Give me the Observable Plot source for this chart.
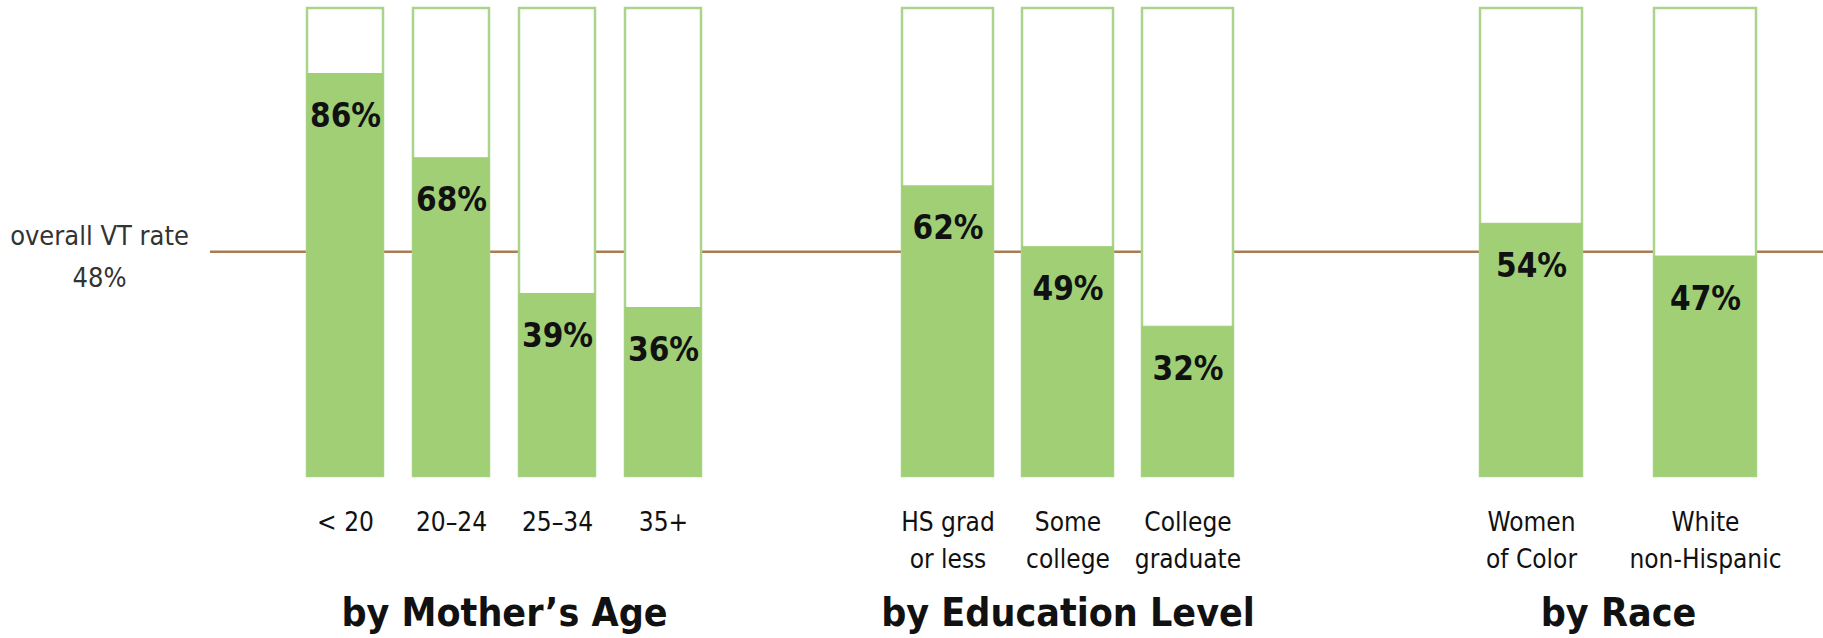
<!DOCTYPE html>
<html>
<head>
<meta charset="utf-8">
<script src="https://cdn.jsdelivr.net/npm/d3@7"></script>
<script src="https://cdn.jsdelivr.net/npm/@observablehq/plot@0.6"></script>
<style>
  html, body { margin: 0; padding: 0; background: #fff; }
  #chart { position: relative; width: 1823px; height: 638px; overflow: hidden; background: #fff; }
  #chart > svg { position: absolute; top: 0; }
</style>
</head>
<body>
<div id="chart"></div>
<script>
// ---- data ----
const groupTitles = ["by Mother\u2019s Age", "by Education Level", "by Race"];
const ageCats = ["< 20", "20\u201324", "25\u201334", "35+"];
const ageVals = [86, 68, 39, 36];
const eduCats = ["HS grad\nor less", "Some\ncollege", "College\ngraduate"];
const eduVals = [62, 49, 32];
const raceCats = ["Women\nof Color", "White\nnon-Hispanic"];
const raceVals = [54, 47];
const overallLabel = "overall VT rate";
const overallRate = 48;

// ---- styles ----
const GREEN = "#a0cf76";
const OUTLINE = "#a9d48a";
const BROWN = "#a97c52";
const H = 638, MT = 8, MB = 162;
const COND = "'DejaVu Sans Condensed', 'DejaVu Sans', sans-serif";
const STYLE = "background: transparent; overflow: visible;";

const chart = document.getElementById("chart");

// background: overall rate rule + label
const bg = Plot.plot({
  width: 1823, height: H,
  marginLeft: 210, marginRight: 0, marginTop: MT, marginBottom: MB,
  style: STYLE,
  x: {axis: null},
  y: {domain: [0, 100], axis: null},
  marks: [
    Plot.ruleY([overallRate], {stroke: BROWN, strokeWidth: 2.5}),
    Plot.text([`${overallLabel}\n${overallRate}%`], {
      text: d => d, frameAnchor: "left", y: () => overallRate,
      dx: -111, dy: 35, textAnchor: "middle", lineAnchor: "bottom",
      lineHeight: 1.55, fontSize: 27, fontFamily: COND, fill: "#333"
    })
  ]
});
bg.style.left = "0px";
chart.appendChild(bg);

function group(cats, vals, title, paddingInner, rangeWidth, barsLeft, mL, mR) {
  const data = cats.map((c, i) => ({cat: c, v: vals[i]}));
  const p = Plot.plot({
    width: rangeWidth + mL + mR, height: H,
    marginLeft: mL, marginRight: mR, marginTop: MT, marginBottom: MB,
    style: STYLE,
    x: {domain: cats, paddingInner, paddingOuter: 0},
    y: {domain: [0, 100], axis: null},
    marks: [
      Plot.barY(data, {x: "cat", y1: 0, y2: 100, fill: "white", stroke: OUTLINE, strokeWidth: 2.5}),
      Plot.barY(data, {x: "cat", y1: 0, y2: "v", fill: GREEN, stroke: GREEN, strokeWidth: 1}),
      Plot.text(data, {
        x: "cat", y: "v", text: d => `${d.v}%`, dy: 53, lineAnchor: "bottom",
        fontSize: 33, fontWeight: "bold", fontFamily: COND, fill: "#111"
      }),
      Plot.axisX({
        tickSize: 0, tickPadding: 28, fontSize: 26, fontFamily: COND,
        lineHeight: 1.42, label: null, fill: "#111"
      }),
      Plot.text([title], {
        text: d => d, frameAnchor: "bottom", dy: 149, lineAnchor: "bottom",
        fontSize: 39, fontWeight: "bold", fontFamily: COND, fill: "#111"
      })
    ]
  });
  p.style.left = (barsLeft - mL) + "px";
  chart.appendChild(p);
}

group(ageCats, ageVals, groupTitles[0], 0.28, 398, 305, 80, 80);
group(eduCats, eduVals, groupTitles[1], 0.2417, 331, 902, 80, 80);
group(raceCats, raceVals, groupTitles[2], 0.4114, 278, 1479, 80, 60);
</script>
</body>
</html>
